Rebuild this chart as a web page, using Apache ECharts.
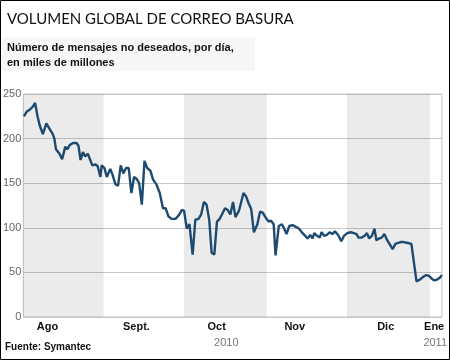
<!DOCTYPE html>
<html><head><meta charset="utf-8">
<script src="https://cdn.jsdelivr.net/npm/echarts@6/dist/echarts.min.js"></script>
<style>html,body{margin:0;padding:0;background:#fff}#c{width:450px;height:360px}</style>
</head><body><div id="c"></div>
<script>
// Day index: 0 = 1 Aug 2010
const days = [1.2,2.2,3.6,4.6,5.4,6.3,7.1,8.3,9.6,10.8,12,12.6,13.2,14.5,15.5,16.7,17.4,18.4,19.6,20.9,21.6,22.4,23.3,24.1,25.1,25.8,26.8,28,28.8,29.8,
  30.3,31.3,32.2,33.5,34.4,35.4,36.4,37.4,38.4,39.4,40.4,41.4,42.4,43.3,44.3,45.3,46.3,47.3,48.5,49.5,50.7,52,53.2,54.2,55.2,56.4,57.9,59.1,60.3,61.1,
  62.1,63.1,64.3,65.3,66.5,67.5,68.5,69.5,70.5,71.4,72.4,73.4,74.4,75.1,76.4,77.4,78.4,79.4,80.3,81.6,82.3,83.3,84.3,85.3,86.2,87.2,88.5,89.5,90.5,91.7,
  92.7,93.6,94.6,95.3,96.5,97.7,98.4,99.4,100.4,101.7,102.9,104.1,105.4,106.4,107.3,108.3,109.1,109.8,110.8,111.8,112.5,113.5,114.5,115.5,116.5,117.5,118.7,119.9,120.9,
  122.1,123.4,124.6,125.6,126.3,127.6,128.6,129.5,130.3,131.3,132.3,133,134,135,136,136.9,137.9,139.1,140.1,141.1,142.1,143.1,143.8,144.8,146.1,
  148,149.3,150.5,151.7,152.7,153.7,154.7,155.7,156.7,157.5];
const values = [225,230,233,236,240,225,215,205,217,211,205,200,188,183,177,191,188,193,195,195,192,176,185,180,183,181,170,171,169,157,
  170,167,157,166,159,149,147,170,161,167,167,139,157,155,150,126,175,167,164,154,149,139,122,122,113,110,110,114,120,119,
  99,104,70,109,110,115,129,126,109,72,70,107,110,114,122,120,115,129,112,119,127,139,135,127,121,95,104,118,117,111,
  107,108,104,69,102,104,100,93,102,103,101,99,94,91,88,92,88,94,91,89,95,91,92,95,93,96,92,85,91,
  94,95,94,93,89,89,91,94,88,91,99,86,88,89,93,87,82,76,82,83,84,84,84,83,82,
  40,42,45,47,46,43,41,42,44,47];
const shadedMonths = [[1,31],[61,92],[122,153]];
const monthLabels = ['Ago','Sept.','Oct','Nov','Dic','Ene'];
const monthLabelDays = [10,43.3,73.3,102.5,136.5,154.6];
const yearLabels = ['2010','2011'];
const yearLabelDays = [76.9,155];
const yTicks = [0,50,100,150,200,250];

const chart = echarts.init(document.getElementById('c'), null, {renderer:'canvas'});
const pts = days.map((d,i)=>[d, values[i]]);
const nearest = (arr, v) => { let b=0; arr.forEach((a,i)=>{ if(Math.abs(a-v)<Math.abs(arr[b]-v)) b=i; }); return b; };
chart.setOption({
  animation:false,
  backgroundColor:'#fff',
  grid:{left:21,right:7,top:94,bottom:43,show:true,borderColor:'#c4c4c4',borderWidth:1},
  title:{text:'VOLUMEN GLOBAL DE CORREO BASURA',left:7,top:12,padding:0,
    textStyle:{fontFamily:'Lato',fontWeight:'normal',fontSize:15,color:'#111'}},
  graphic:[
    {type:'rect',shape:{x:2,y:37,width:253,height:34},style:{fill:'#f7f7f7'},z:-10},
    {type:'text',left:7,top:40,style:{text:'Número de mensajes no deseados, por día,\nen miles de millones',
      font:'bold 11px "Liberation Sans"',fill:'#111',lineHeight:15}},
    {type:'text',left:5,top:342,style:{text:'Fuente: Symantec',font:'bold 10px "Liberation Sans"',fill:'#111'}},
    {type:'rect',shape:{x:0.5,y:0.5,width:449,height:359},style:{fill:'none',stroke:'#000',lineWidth:1},z:100}
  ],
  xAxis:[{type:'value',min:1,max:157.5,position:'bottom',
    axisLine:{show:false},axisTick:{show:false},splitLine:{show:false},
    axisLabel:{customValues:monthLabelDays,margin:4,fontFamily:'Liberation Sans',fontWeight:'bold',fontSize:11,color:'#111',
      formatter:v=>monthLabels[nearest(monthLabelDays,v)]}},
    {type:'value',min:1,max:157.5,position:'bottom',offset:16,
    axisLine:{show:false},axisTick:{show:false},splitLine:{show:false},
    axisLabel:{customValues:yearLabelDays,margin:4,fontFamily:'Liberation Sans',fontSize:11,color:'#777',
      formatter:v=>yearLabels[nearest(yearLabelDays,v)]}}],
  yAxis:{type:'value',min:0,max:250,interval:50,
    axisLine:{show:false},axisTick:{show:false},
    splitLine:{lineStyle:{color:'#c8c8c8',width:1}},
    axisLabel:{margin:2,fontFamily:'Liberation Sans',fontSize:11,color:'#666',
      formatter:v=>yTicks.includes(v)?String(v):''}},
  series:[{type:'line',data:pts,showSymbol:false,smooth:false,
    lineStyle:{color:'#1f4a70',width:2.4},
    markArea:{silent:true,itemStyle:{color:'rgba(0,0,0,0.08)'},
      data:shadedMonths.map(m=>[{xAxis:m[0]},{xAxis:m[1]}])}}]
});
</script></body></html>
